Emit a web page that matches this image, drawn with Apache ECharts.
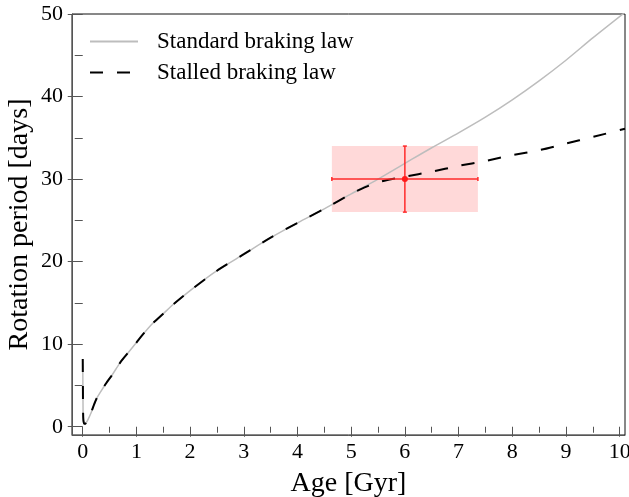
<!DOCTYPE html>
<html>
<head>
<meta charset="utf-8">
<script src="https://cdn.jsdelivr.net/npm/echarts@6/dist/echarts.min.js"></script>
<style>
  html, body { margin: 0; padding: 0; background: #fff; }
  #chart { width: 629px; height: 497px; }
</style>
</head>
<body>
<div id="chart"></div>
<script>
// Spin-down tracks: rotation period (days) versus stellar age (Gyr)
const standardAges = [0, 0.003, 0.006, 0.012, 0.03, 0.06, 0.1, 0.15, 0.2, 0.26, 0.32, 0.44, 0.55, 0.7, 0.85, 1.0, 1.15, 1.3, 1.5, 1.7, 2.0, 2.5, 3.0, 3.5, 4.0, 4.5, 5.0, 5.5, 6.0, 6.5, 7.0, 7.5, 8.0, 8.5, 9.0, 9.5, 10.1];
const standardPeriod = [8.2, 5.0, 2.0, 0.8, 0.35, 0.45, 0.9, 1.6, 2.5, 3.45, 4.1, 5.3, 6.3, 7.8, 9.0, 10.2, 11.4, 12.5, 13.7, 14.9, 16.5, 18.9, 20.9, 22.9, 24.7, 26.4, 28.2, 30.0, 31.9, 33.8, 35.6, 37.5, 39.6, 41.9, 44.4, 47.1, 50.2];

const stalledAges = [0, 0.003, 0.006, 0.012, 0.03, 0.06, 0.1, 0.15, 0.2, 0.26, 0.32, 0.44, 0.55, 0.7, 0.85, 1.0, 1.15, 1.3, 1.5, 1.7, 2.0, 2.5, 3.0, 3.5, 4.0, 4.5, 5.0, 5.25, 5.55, 6.0, 6.5, 7.0, 7.5, 8.0, 8.5, 9.0, 9.5, 10.1];
const stalledPeriod = [8.2, 5.0, 2.0, 0.8, 0.35, 0.45, 0.9, 1.6, 2.5, 3.45, 4.1, 5.3, 6.3, 7.8, 9.0, 10.2, 11.4, 12.5, 13.7, 14.9, 16.5, 18.9, 20.9, 22.9, 24.7, 26.4, 28.2, 29.0, 29.7, 30.3, 30.9, 31.6, 32.2, 32.9, 33.5, 34.3, 35.1, 36.1];

// Measured star: age and period with their uncertainties
const obsAge = 6.0;
const obsAgeErr = 1.36;
const obsPeriod = 30;
const obsPeriodErr = 4;

// Axis ticks and labels
const xLabels = [0, 1, 2, 3, 4, 5, 6, 7, 8, 9, 10];
const xMinor = [0.5, 1.5, 2.5, 3.5, 4.5, 5.5, 6.5, 7.5, 8.5, 9.5];
const yLabels = [0, 10, 20, 30, 40, 50];
const yMinor = [5, 15, 25, 35, 45];

const FONT = '"Liberation Serif", "Times New Roman", serif';
const AXIS_COLOR = '#555';
const X_MIN = -0.2, X_MAX = 10.1, Y_MIN = -1, Y_MAX = 50;

const chart = echarts.init(document.getElementById('chart'), null, { renderer: 'canvas' });

function zip(xs, ys) { return xs.map((x, i) => [x, ys[i]]); }

// tick-only axis; a negative offset lets the ticks straddle the frame line
function tickAxis(min, max, position, values, offset, length) {
  return {
    type: 'value', min: min, max: max, position: position,
    offset: offset,
    axisLine: { show: false },
    axisLabel: { show: false },
    splitLine: { show: false },
    axisTick: { show: true, inside: false, length: length, customValues: values,
                lineStyle: { color: AXIS_COLOR, width: 1 } }
  };
}

const option = {
  animation: false,
  backgroundColor: '#fff',
  grid: { left: 72, right: 4, top: 14, bottom: 62, outerBoundsMode: 'none', containLabel: false,
          show: true, borderColor: '#111', borderWidth: 1, backgroundColor: 'transparent' },
  legend: {
    orient: 'vertical', left: 89, top: 30, padding: 0, itemWidth: 48, itemHeight: 20, itemGap: 8,
    data: ['Standard braking law', 'Stalled braking law'],
    itemStyle: { opacity: 0 },
    textStyle: { fontFamily: FONT, fontSize: 23, color: '#000', padding: [0, 0, 0, 14] }
  },
  xAxis: [
    {
      type: 'value', min: X_MIN, max: X_MAX, position: 'bottom',
      axisLine: { show: true, onZero: false, lineStyle: { color: AXIS_COLOR, width: 1 } },
      axisTick: { show: false },
      splitLine: { show: false },
      axisLabel: { customValues: xLabels, fontFamily: FONT, fontSize: 22, color: '#000', margin: 6 },
      name: 'Age [Gyr]', nameLocation: 'middle', nameGap: 35,
      nameTextStyle: { fontFamily: FONT, fontSize: 28, color: '#000' }
    },
    tickAxis(X_MIN, X_MAX, 'bottom', xLabels, -6, 10),
    tickAxis(X_MIN, X_MAX, 'bottom', xMinor, -3, 6)
  ],
  yAxis: [
    {
      type: 'value', min: Y_MIN, max: Y_MAX, position: 'left',
      axisLine: { show: true, onZero: false, lineStyle: { color: AXIS_COLOR, width: 1 } },
      axisTick: { show: false },
      splitLine: { show: false },
      axisLabel: { customValues: yLabels, fontFamily: FONT, fontSize: 22, color: '#000', margin: 9 },
      name: 'Rotation period [days]', nameLocation: 'middle', nameGap: 38, nameMoveOverlap: false,
      nameTextStyle: { fontFamily: FONT, fontSize: 28, color: '#000' }
    },
    tickAxis(Y_MIN, Y_MAX, 'left', yLabels, -8, 15),
    tickAxis(Y_MIN, Y_MAX, 'left', yMinor, -4, 8)
  ],
  series: [
    {
      // shaded uncertainty box
      type: 'custom', z: 1, silent: true,
      data: [[obsAge, obsAgeErr, obsPeriod, obsPeriodErr]],
      encode: { x: 0, y: 2 },
      renderItem: function (params, api) {
        const a = api.value(0), ae = api.value(1), p = api.value(2), pe = api.value(3);
        const tl = api.coord([a - ae, p + pe]);
        const br = api.coord([a + ae, p - pe]);
        return { type: 'rect', shape: { x: tl[0], y: tl[1], width: br[0] - tl[0], height: br[1] - tl[1] },
                 style: { fill: '#ffd9d9' } };
      }
    },
    {
      name: 'Standard braking law', type: 'line', z: 2,
      data: zip(standardAges, standardPeriod),
      showSymbol: false, symbol: 'none', smooth: 0.25,
      lineStyle: { color: '#bdbdbd', width: 1.5 },
      itemStyle: { color: '#bdbdbd' }
    },
    {
      name: 'Stalled braking law', type: 'line', z: 3,
      data: zip(stalledAges, stalledPeriod),
      showSymbol: false, symbol: 'none', smooth: 0.25,
      lineStyle: { color: '#000', width: 2, type: [13, 14] },
      itemStyle: { color: '#000' }
    },
    {
      // error bars with caps and the central point
      type: 'custom', z: 4, silent: true,
      data: [[obsAge, obsAgeErr, obsPeriod, obsPeriodErr]],
      encode: { x: 0, y: 2 },
      renderItem: function (params, api) {
        const a = api.value(0), ae = api.value(1), p = api.value(2), pe = api.value(3);
        const c = api.coord([a, p]);
        const l = api.coord([a - ae, p]);
        const r = api.coord([a + ae, p]);
        const t = api.coord([a, p + pe]);
        const b = api.coord([a, p - pe]);
        const st = { stroke: '#ff2a2a', lineWidth: 1.5 };
        const cap = 2;
        return {
          type: 'group',
          children: [
            { type: 'line', shape: { x1: l[0], y1: l[1], x2: r[0], y2: r[1] }, style: st },
            { type: 'line', shape: { x1: t[0], y1: t[1], x2: b[0], y2: b[1] }, style: st },
            { type: 'line', shape: { x1: l[0], y1: l[1] - cap, x2: l[0], y2: l[1] + cap }, style: st },
            { type: 'line', shape: { x1: r[0], y1: r[1] - cap, x2: r[0], y2: r[1] + cap }, style: st },
            { type: 'line', shape: { x1: t[0] - cap, y1: t[1], x2: t[0] + cap, y2: t[1] }, style: st },
            { type: 'line', shape: { x1: b[0] - cap, y1: b[1], x2: b[0] + cap, y2: b[1] }, style: st },
            { type: 'circle', shape: { cx: c[0], cy: c[1], r: 3 }, style: { fill: '#ff1a1a' } }
          ]
        };
      }
    }
  ]
};

chart.setOption(option);
</script>
</body>
</html>
